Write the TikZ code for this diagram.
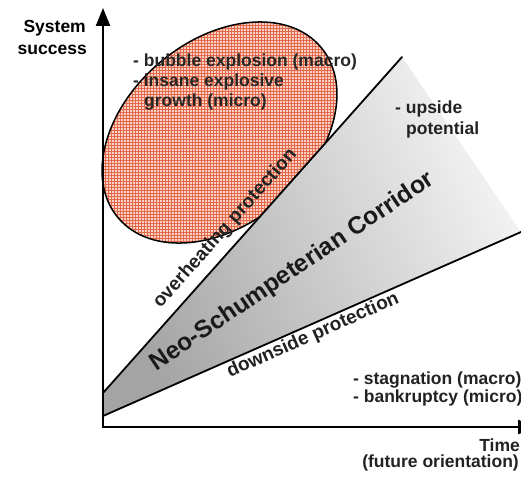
\documentclass[tikz,border=0pt]{standalone}
\usepackage{fontspec}
\setmainfont{Liberation Sans}
\usetikzlibrary{shapes.geometric,patterns,arrows.meta}
\definecolor{ink}{HTML}{222222}
\definecolor{bubblebase}{HTML}{F8D2C4}
\definecolor{bubblegrid}{HTML}{E4694A}
\definecolor{corrdark}{HTML}{A4A4A4}
\definecolor{corrlight}{HTML}{F4F4F4}
\begin{document}
\begin{tikzpicture}[x=1pt,y=-1pt,
  lbl/.style={font=\bfseries\fontsize{17.5}{21}\selectfont, text=ink, inner sep=0pt},
  slanted/.style={font=\bfseries\fontsize{19}{22}\selectfont, text=ink, inner sep=0pt, anchor=base},
  corrlabel/.style={font=\bfseries\fontsize{24.5}{28}\selectfont, text=black!90, inner sep=0pt, anchor=base},
  edge/.style={line width=1.8pt, line cap=round},
  axisline/.style={line width=2.2pt, line join=miter}]
\useasboundingbox (0,0) rectangle (521,478);
\clip (0,0) rectangle (521,478);

% overheating zone
\node[ellipse, draw=black, line width=1.5pt, minimum width=265pt, minimum height=184pt,
      inner sep=0pt, rotate=40, preaction={fill=bubblebase},
      pattern=grid, pattern color=bubblegrid] (bubble) at (219.5,132.5) {};

% corridor wedge
\coordinate (apexU) at (103,393);
\coordinate (apexL) at (103,416);
\coordinate (peak) at (402,57);
\coordinate (tail) at (521,232);
\shade[bottom color=corrdark, top color=corrlight, shading angle=-65]
  (apexU) -- (peak) -- (tail) -- (apexL) -- cycle;
\draw[edge] (apexU) -- (peak);
\draw[edge] (apexL) -- (tail);

% axes
\coordinate (origin) at (103,427);
\coordinate (ytop) at (103,8);
\coordinate (xend) at (536,427);
\draw[axisline, {Triangle[length=18pt,width=14pt]}-{Triangle[length=18pt,width=14pt]}]
  (ytop) -- (origin) -- (xend);

% axis titles
\node[lbl, text=black, anchor=base east] (sysA) at (86,33) {System};
\node[lbl, text=black, anchor=base east] (sysB) at (87,55) {success};
\node[lbl, anchor=base east] (time) at (520,451) {Time};
\node[lbl, anchor=base east] (fut) at (519,467) {(future orientation)};

% region notes
\node[lbl, text=black!85, anchor=base west] (bub1) at (133,67) {- bubble explosion (macro)};
\node[lbl, text=black!85, anchor=base west] (bub2) at (133,87) {- insane explosive};
\node[lbl, text=black!85, anchor=base west] (bub3) at (144,107) {growth (micro)};
\node[lbl, anchor=base west] (up1) at (395,114) {- upside};
\node[lbl, anchor=base west] (up2) at (406,135) {potential};
\node[lbl, anchor=base west] (stag) at (353,384) {- stagnation (macro)};
\node[lbl, anchor=base west] (bank) at (353,402) {- bankruptcy (micro)};

% labels along the corridor
\node[slanted, rotate=48.4] (over) at (229,232) {overheating protection};
\node[slanted, rotate=23.8] (down) at (315,340) {downside protection};
\node[corrlabel, rotate=34] (corr) at (296,277) {Neo-Schumpeterian Corridor};
\end{tikzpicture}
\end{document}
